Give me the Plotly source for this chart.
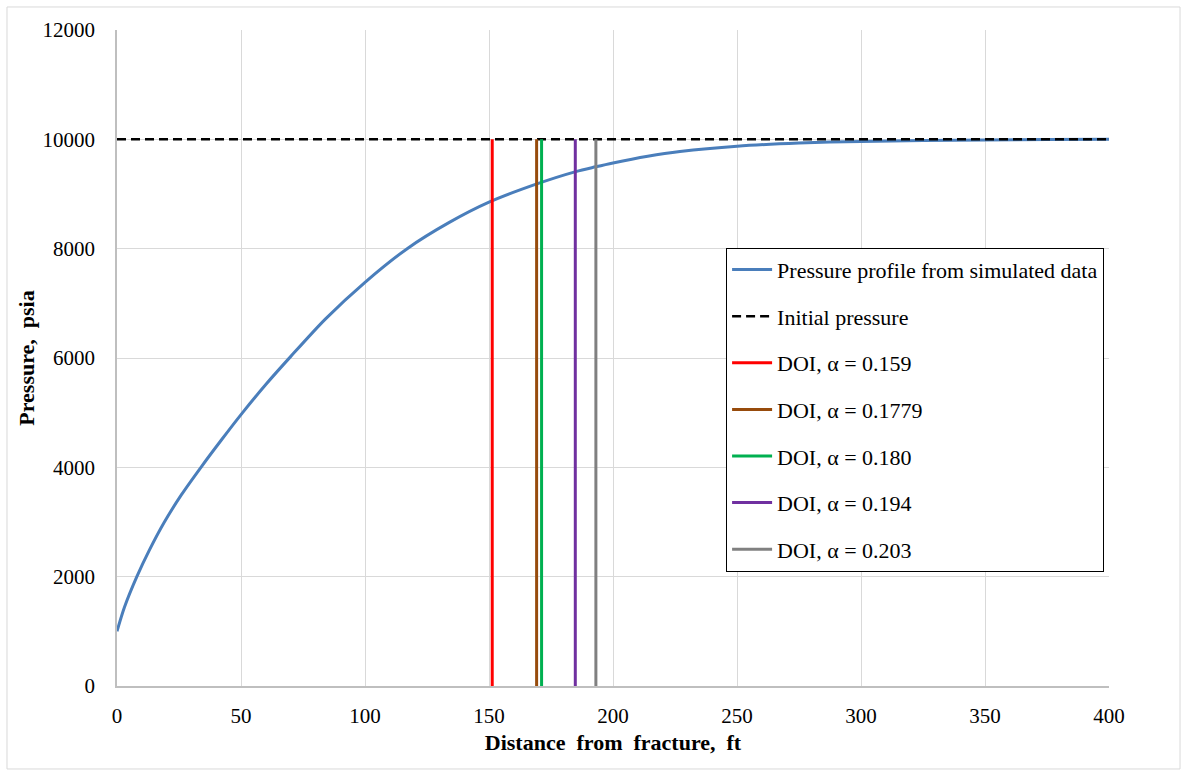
import plotly.graph_objects as go

# Pressure profile
distance_ft = [0, 3, 8, 13, 19, 26, 34, 42, 50, 60, 70, 84, 100, 117, 134, 150,
               169, 185, 193, 200, 214, 227, 250, 275, 300, 325, 350, 375, 400]
pressure_psia = [1000, 1440, 2000, 2480, 2990, 3500, 4010, 4495, 4965, 5515, 6025,
                 6712, 7385, 8000, 8480, 8850, 9180, 9410, 9497, 9568, 9690, 9777,
                 9875, 9932, 9962, 9979, 9989, 9995, 10000]

initial_pressure = 10000
initial_x = [0, 400]

doi_labels = ["DOI, α = 0.159", "DOI, α = 0.1779", "DOI, α = 0.180",
              "DOI, α = 0.194", "DOI, α = 0.203"]
doi_distance = [151.3, 169.2, 171.2, 184.8, 193.1]
doi_colors = ["#FF0000", "#974B0C", "#00B050", "#7030A0", "#808080"]

x_ticks = [0, 50, 100, 150, 200, 250, 300, 350, 400]
y_ticks = [0, 2000, 4000, 6000, 8000, 10000, 12000]

FONT = "Liberation Serif"
NB = "\u00a0"

fig = go.Figure()
fig.add_trace(go.Scatter(
    x=distance_ft, y=pressure_psia, mode="lines",
    line=dict(color="#4A7EBB", width=3, shape="spline", smoothing=0.8),
    name="Pressure profile from simulated data", legendgroup="g0"))
fig.add_trace(go.Scatter(
    x=initial_x, y=[initial_pressure, initial_pressure], mode="lines",
    line=dict(color="black", width=2.5, dash="9px,5px"),
    name="Initial pressure", legendgroup="g1"))
for i, (lab, d, c) in enumerate(zip(doi_labels, doi_distance, doi_colors)):
    fig.add_trace(go.Scatter(
        x=[d, d], y=[0, initial_pressure], mode="lines", line=dict(color=c, width=3),
        name=lab, legendgroup=f"g{i+2}"))

fig.update_layout(
    width=1186, height=776,
    margin=dict(l=117, r=77, t=30, b=90),
    paper_bgcolor="white", plot_bgcolor="white",
    font=dict(family=FONT, size=21, color="black"),
    showlegend=True,
    legend=dict(x=0.614, y=0.668, xanchor="left", yanchor="top",
                bgcolor="white", bordercolor="black", borderwidth=1,
                font=dict(family=FONT, size=22), tracegroupgap=15,
                traceorder="grouped", itemwidth=40),
    shapes=[dict(type="rect", xref="paper", yref="paper",
                 x0=-0.1109, x1=1.0716, y0=-0.1265, y1=1.0351,
                 line=dict(color="#D9D9D9", width=1), layer="below")],
)
fig.update_xaxes(range=[0, 400], tickvals=x_ticks, ticktext=[str(v) for v in x_ticks],
                 showgrid=True, gridcolor="#D9D9D9",
                 gridwidth=1, showline=True, linecolor="#BFBFBF", linewidth=1.5,
                 zeroline=False, ticks="", ticklabelstandoff=10,
                 tickfont=dict(family=FONT, size=21),
                 title=dict(text=f"<b>Distance{NB} from{NB} fracture,{NB} ft</b>",
                            font=dict(family=FONT, size=22), standoff=8))
fig.update_yaxes(range=[0, 12000], tickvals=y_ticks, ticktext=[str(v) for v in y_ticks],
                 showgrid=True, gridcolor="#D9D9D9",
                 gridwidth=1, showline=True, linecolor="#BFBFBF", linewidth=1.5,
                 zeroline=False, ticks="", ticklabelstandoff=16,
                 tickfont=dict(family=FONT, size=21),
                 title=dict(text=f"<b>Pressure,{NB} psia</b>",
                            font=dict(family=FONT, size=22), standoff=2))

fig.write_html("out.html")
